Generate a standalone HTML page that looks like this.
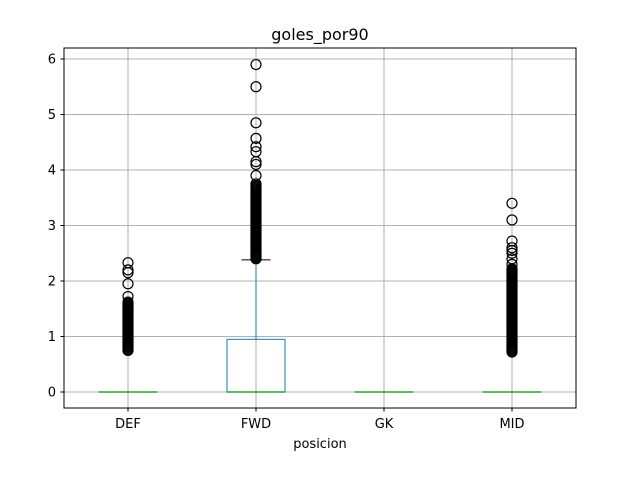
<!DOCTYPE html>
<html><head><meta charset="utf-8"><style>
body{margin:0;background:#fff}
svg text{font-family:"DejaVu Sans","Liberation Sans",sans-serif;fill:#000}
</style></head><body>
<svg id="chart" width="640" height="480" xmlns="http://www.w3.org/2000/svg">
<rect width="640" height="480" fill="#fff"/>
<g id="grid"></g>
<g id="marks"></g>
<rect x="64" y="48" width="512" height="360" fill="none" stroke="#000" stroke-width="1"/>
<g id="axes"></g>
<text x="320" y="40" font-size="16" text-anchor="middle">goles_por90</text>
<text x="320" y="448" font-size="13" text-anchor="middle">posicion</text>
</svg>
<script>
const categories=["DEF","FWD","GK","MID"];
const q1=[0,0,0,0];
const medians=[0,0,0,0];
const q3=[0,0.95,0,0];
const whiskLo=[0,0,0,0];
const whiskHi=[0,2.38,0,0];
const outDEF=[2.33,2.2,2.15,1.95,1.72,1.62,1.6,1.58,1.56,1.54,1.52,1.5,1.48,1.46,1.44,1.42,1.4,1.38,1.36,1.34,1.32,1.3,1.28,1.26,1.24,1.22,1.2,1.18,1.16,1.14,1.12,1.1,1.08,1.06,1.04,1.02,1.0,0.98,0.96,0.94,0.92,0.9,0.88,0.86,0.84,0.82,0.8,0.78,0.76,0.75];
const outFWD=[5.9,5.5,4.85,4.57,4.42,4.33,4.15,4.1,3.9,3.75,3.72,3.7,3.68,3.66,3.64,3.62,3.6,3.58,3.56,3.54,3.52,3.5,3.48,3.46,3.44,3.42,3.4,3.38,3.36,3.34,3.32,3.3,3.28,3.26,3.24,3.22,3.2,3.18,3.16,3.14,3.12,3.1,3.08,3.06,3.04,3.02,3.0,2.98,2.96,2.94,2.92,2.9,2.88,2.86,2.84,2.82,2.8,2.78,2.76,2.74,2.72,2.7,2.68,2.66,2.64,2.62,2.6,2.58,2.56,2.54,2.52,2.5,2.48,2.46,2.44,2.42,2.4];
const outGK=[];
const outMID=[3.4,3.1,2.72,2.6,2.55,2.5,2.4,2.3,2.22,2.2,2.18,2.16,2.14,2.12,2.1,2.08,2.06,2.04,2.02,2.0,1.98,1.96,1.94,1.92,1.9,1.88,1.86,1.84,1.82,1.8,1.78,1.76,1.74,1.72,1.7,1.68,1.66,1.64,1.62,1.6,1.58,1.56,1.54,1.52,1.5,1.48,1.46,1.44,1.42,1.4,1.38,1.36,1.34,1.32,1.3,1.28,1.26,1.24,1.22,1.2,1.18,1.16,1.14,1.12,1.1,1.08,1.06,1.04,1.02,1.0,0.98,0.96,0.94,0.92,0.9,0.88,0.86,0.84,0.82,0.8,0.78,0.76,0.74,0.72];
const outliers=[outDEF,outFWD,outGK,outMID];
const yTicks=[0,1,2,3,4,5,6];
const NS="http://www.w3.org/2000/svg";
const y0=392,pxPerUnit=55.5;
function yS(v){return y0-v*pxPerUnit;}
function xS(i){return 128+i*128;}
function mk(p,t,a){const e=document.createElementNS(NS,t);for(const k in a)e.setAttribute(k,a[k]);p.appendChild(e);return e;}
const grid=document.getElementById('grid'),marks=document.getElementById('marks'),axes=document.getElementById('axes');
yTicks.forEach(t=>{
 const g=mk(grid,'line',{x1:64,x2:576,y1:yS(t),y2:yS(t),stroke:'#b0b0b0','stroke-width':1});
 
 
 mk(axes,'line',{x1:60.5,x2:64,y1:yS(t),y2:yS(t),stroke:'#000'});
 const tx=mk(axes,'text',{x:56,y:yS(t)+4.5,'font-size':13,'text-anchor':'end'});
 tx.textContent=t;
 
 
});
categories.forEach((c,i)=>{
 const x=xS(i);
 const g=mk(grid,'line',{x1:x,x2:x,y1:48,y2:408,stroke:'#b0b0b0','stroke-width':1});
 
 
 mk(axes,'line',{x1:x,x2:x,y1:408,y2:411.5,stroke:'#000'});
 const tx=mk(axes,'text',{x:x,y:428,'font-size':13,'text-anchor':'middle'});
 tx.textContent=c;
 
 
 const hw=29;
 const box=mk(marks,'rect',{x:x-hw,y:yS(q3[i]),width:hw*2,height:Math.max(0.01,yS(q1[i])-yS(q3[i])),fill:'none',stroke:'#1f77b4','stroke-width':1});
 
 
 mk(marks,'line',{x1:x,x2:x,y1:yS(q3[i]),y2:yS(whiskHi[i]),stroke:'#1f77b4'});
 mk(marks,'line',{x1:x,x2:x,y1:yS(q1[i]),y2:yS(whiskLo[i]),stroke:'#1f77b4'});
 mk(marks,'line',{x1:x-14.5,x2:x+14.5,y1:yS(whiskHi[i]),y2:yS(whiskHi[i]),stroke:'#000'});
 mk(marks,'line',{x1:x-14.5,x2:x+14.5,y1:yS(whiskLo[i]),y2:yS(whiskLo[i]),stroke:'#000'});
 const m=mk(marks,'line',{x1:x-hw,x2:x+hw,y1:yS(medians[i]),y2:yS(medians[i]),stroke:'#2ca02c','stroke-width':1.5});
 
 
 outliers[i].forEach(v=>{
  const o=mk(marks,'circle',{cx:x,cy:yS(v),r:5,fill:'none',stroke:'#000','stroke-width':1.2});
  
  
 });
});
</script>
</body></html>
